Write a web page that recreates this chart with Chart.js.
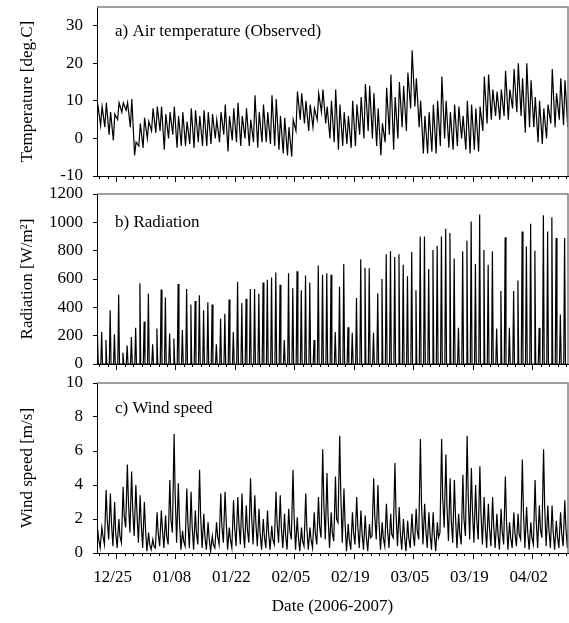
<!DOCTYPE html>
<html>
<head>
<meta charset="utf-8">
<script src="https://cdn.jsdelivr.net/npm/chart.js@4.4.0/dist/chart.umd.min.js"></script>
<style>
  body { margin: 0; background: #fff; }
  #wrap { position: relative; width: 569px; height: 623px; }
  #wrap canvas { position: absolute; left: 0; }
</style>
</head>
<body>
<div id="wrap">
  <canvas id="tempChart" width="569" height="186" style="top:0"></canvas>
  <canvas id="radChart" width="569" height="190" style="top:184px"></canvas>
  <canvas id="windChart" width="569" height="251" style="top:372px"></canvas>
</div>
<script>
// day 0 = 12/25 (2006), first value is 12/20
var startDay = -5;
var tickDays = [0, 14, 28, 42, 56, 70, 84, 98];
var dateLabels = ["12/25", "01/08", "01/22", "02/05", "02/19", "03/05", "03/19", "04/02"];

// daily min / max air temperature [deg.C]
var tempMin = [2.5, 3.5, 3, 1, -0.5,
  5, 7, 7.5, 3,
  -4.5, -2, -2.5, 0,
  2, 1.5, 2, -3, 0, 1,
  -2.5, -2, -2, -1.5, -2.5, -1, -2,
  -2, -1.5, 0, -1, 1, -3.5, -0.5,
  -1, -2, 0, -2, -1, -2.5, -1,
  -1, -1.5, -2, -3, -4, -4.5, -4.8,
  2, 5, 4, 2, 3, 5, 7,
  4, 0, -1, -3, -2, -1.5, -2.5,
  -2, 1, 0, 2, 0, -2, -4.5,
  -1, 1, -3, 0, 3, 2, 8,
  8.5, 3, -4, -4, -3.5, -4, -2,
  0, -2.5, -3, -2, 0, -3, -4,
  -3, -3.5, 2, 4, 5, 6, 5,
  6, 5, 8, 7, 6, 1.5, 3,
  3, -1, -1.5, 0, 4, 3, 5, 3.5, 3];
var tempMax = [9, 8.5, 9.5, 7, 6.5,
  9.5, 9.5, 9.5, 10.5,
  -1, 4, 5.5, 4.5,
  8, 8.5, 8.5, 6.5, 7, 8.5,
  6, 7, 4.5, 8, 7.5, 6, 7.5,
  7, 6.5, 5, 7, 9, 6, 8,
  9.5, 6, 8, 5, 11.5, 7, 9,
  7, 11.5, 10.5, 6, 5.5, 3, 5,
  12.5, 12, 10, 9, 8, 12, 13,
  8.5, 10, 13, 9, 7, 6, 10,
  9, 11, 14.5, 14, 12, 8, 4,
  13.5, 17, 11, 15, 14, 17.5, 23.5,
  16, 10, 6, 7, 9, 10, 16.5,
  10, 7, 9, 8.5, 6, 10, 9,
  8, 8.5, 16.5, 17, 13, 12.5, 13,
  18, 13, 18.5, 20, 16, 20, 15.5,
  11, 10, 8, 9, 18.5, 12, 16, 15.5, 18];

// daily peak radiation [W/m2], night value 0
var radNight = 0;
var radPeak = [210, 225, 170, 380, 210,
  490, 80, 130, 190, 255, 570, 300, 495, 140, 250,
  525, 470, 215, 180, 565, 240, 530, 420, 445, 485,
  380, 435, 420, 140, 320, 355, 455, 225, 580, 430,
  460, 530, 530, 495, 575, 595, 610, 645, 560, 170,
  640, 535, 655, 520, 625, 575, 170, 695, 630, 640,
  630, 225, 545, 705, 260, 220, 465, 740, 680, 675,
  220, 500, 600, 775, 795, 755, 775, 700, 620, 790,
  520, 900, 900, 670, 805, 835, 900, 955, 925, 745,
  255, 795, 870, 1005, 705, 1055, 805, 700, 795, 250,
  515, 895, 255, 515, 590, 935, 830, 990, 800, 255,
  1050, 935, 1035, 890, 350, 890, 960];

// wind speed [m/s]: night low, afternoon high, evening value
var windLow = [0.2, 0.3, 0.5, 0.8, 0.4,
  0.3, 0.6, 1.5, 1.2, 1.0, 0.6, 0.3,
  0.1, 0.2, 0.3, 0.4, 0.3, 0.5, 1.2,
  0.6, 0.2, 0.4, 0.3, 0.2, 0.5, 0.3,
  0.2, 0.1, 0.3, 0.5, 0.6, 0.2, 0.3,
  0.4, 0.5, 0.3, 0.6, 0.5, 0.4, 0.2,
  0.3, 0.2, 0.5, 0.6, 0.3, 0.2, 0.8,
  0.2, 0.1, 0.4, 0.2, 0.3, 0.5, 0.9,
  0.8, 0.3, 0.7, 1.8, 0.6, 0.1, 0.2,
  0.5, 0.3, 0.2, 0.1, 1.0, 0.8, 0.2,
  0.4, 0.3, 0.9, 0.4, 0.2, 0.1, 0.3,
  0.4, 0.8, 0.5, 0.3, 0.2, 0.1, 1.2,
  1.5, 0.7, 0.6, 0.3, 0.5, 1.0, 0.8,
  0.6, 0.8, 0.5, 0.3, 0.4, 0.3, 0.2,
  0.5, 0.2, 0.3, 0.4, 0.8, 0.3, 0.2,
  0.5, 0.3, 0.9, 0.4, 0.3, 0.2, 0.3, 0.4, 0.3];
var windHigh = [1.4, 1.5, 3.7, 3.5, 3.0,
  2.0, 3.9, 5.2, 4.8, 4.0, 3.4, 3.0,
  1.2, 0.8, 2.4, 2.5, 2.2, 4.3, 7.0,
  4.1, 1.3, 3.8, 3.6, 2.5, 4.9, 2.3,
  1.8, 1.0, 1.8, 3.5, 3.6, 1.5, 3.1,
  3.3, 3.5, 2.8, 4.4, 3.4, 2.6, 2.0,
  2.5, 1.6, 3.6, 3.4, 2.3, 2.6, 4.9,
  2.1, 1.5, 3.5, 1.5, 2.4, 3.3, 6.1,
  4.7, 2.4, 4.5, 6.9, 3.8, 1.7, 2.4,
  3.3, 2.5, 2.2, 1.7, 4.4, 4.0, 1.8,
  2.9, 2.3, 5.3, 2.7, 2.0, 1.9, 2.3,
  2.6, 6.7, 2.9, 2.4, 2.4, 1.8, 6.7,
  5.8, 4.4, 4.3, 2.3, 4.6, 6.9, 5.0,
  4.0, 5.1, 3.3, 2.9, 3.3, 2.3, 2.6,
  4.5, 1.8, 2.4, 2.3, 5.5, 2.7, 1.8,
  4.3, 2.8, 6.1, 2.8, 2.8, 1.9, 2.4, 3.1, 2.5];
var windEve = [0.8, 1.0, 2.0, 1.8, 1.2,
  1.0, 2.2, 3.0, 2.6, 2.4, 1.8, 1.5,
  0.5, 0.4, 1.2, 1.4, 1.0, 2.0, 3.5,
  2.0, 0.7, 1.8, 1.6, 1.2, 2.2, 1.0,
  0.9, 0.5, 1.0, 1.6, 2.0, 0.8, 1.5,
  1.8, 1.5, 1.4, 2.2, 1.8, 1.2, 1.0,
  1.2, 0.8, 1.8, 1.5, 1.1, 1.3, 2.2,
  1.0, 0.7, 1.5, 0.8, 1.2, 1.6, 3.0,
  2.2, 1.2, 2.0, 3.5, 1.8, 0.8, 1.2,
  1.6, 1.2, 1.0, 0.9, 2.2, 1.8, 0.9,
  1.4, 1.1, 2.4, 1.3, 1.0, 0.9, 1.2,
  1.3, 3.0, 1.5, 1.2, 1.1, 0.9, 3.2,
  2.8, 2.0, 2.2, 1.2, 2.0, 3.4, 2.5,
  2.0, 2.4, 1.6, 1.5, 1.6, 1.2, 1.3,
  2.0, 0.9, 1.2, 1.1, 2.5, 1.3, 0.9,
  2.0, 1.4, 2.8, 1.4, 1.3, 1.0, 1.2, 1.5, 1.2];

var xMin = -4.6, xMax = 106.3;
var serif = "'Liberation Serif', 'Times New Roman', serif";

Chart.defaults.font.family = serif;
Chart.defaults.font.size = 17;
Chart.defaults.color = "#000";

// one point per series per day, at the given times of day
function dailyPoints(series, times) {
  var pts = [];
  for (var i = 0; i < series[0].length; i++) {
    for (var k = 0; k < series.length; k++) {
      pts.push({ x: startDay + i + times[k], y: series[k][i] });
    }
  }
  return pts;
}

function radPoints() {
  var pts = [];
  for (var i = 0; i < radPeak.length; i++) {
    var d = startDay + i;
    pts.push({ x: d + 0.3, y: radNight });
    pts.push({ x: d + 0.5, y: radPeak[i] });
    pts.push({ x: d + 0.7, y: radNight });
  }
  return pts;
}

// panel label + grey top/right frame
var panelPlugin = {
  id: "panel",
  afterDatasetsDraw: function (chart, args, opts) {
    var a = chart.chartArea, ctx = chart.ctx;
    ctx.save();
    ctx.strokeStyle = "#808080";
    ctx.lineWidth = 1.5;
    ctx.beginPath();
    ctx.moveTo(a.left, a.top);
    ctx.lineTo(a.right, a.top);
    ctx.lineTo(a.right, a.bottom);
    ctx.stroke();
    ctx.fillStyle = "#000";
    ctx.font = "17px " + serif;
    ctx.textBaseline = "middle";
    ctx.fillText(opts.text, a.left + 18, a.top + opts.dy);
    ctx.restore();
  }
};

function xScales(showLabels, h) {
  return {
    x: {
      type: "linear", min: xMin, max: xMax, position: "bottom", weight: 1,
      afterBuildTicks: function (s) {
        s.ticks = tickDays.map(function (v) { return { value: v }; });
      },
      afterFit: function (s) { s.height = h; s.paddingLeft = 0; s.paddingRight = 0; },
      grid: { drawOnChartArea: false, tickLength: 6, tickColor: "#000" },
      border: { color: "#000", width: 1 },
      ticks: {
        display: showLabels, autoSkip: false, maxRotation: 0, padding: 8, labelOffset: -4,
        callback: function (v) { return dateLabels[tickDays.indexOf(v)]; }
      },
      title: { display: showLabels, text: "Date (2006-2007)", padding: { top: 0, bottom: 6 } }
    },
    xMinor: {
      type: "linear", min: xMin, max: xMax, position: "bottom", weight: 0,
      afterFit: function (s) { s.height = 0; s.paddingLeft = 0; s.paddingRight = 0; },
      grid: { drawOnChartArea: false, tickLength: 3, tickColor: "#000" },
      border: { display: false },
      ticks: { display: false, stepSize: 2, includeBounds: false }
    }
  };
}

function yScale(min, max, step, title) {
  return {
    min: min, max: max,
    afterFit: function (s) { s.width = 97; s.paddingTop = 0; s.paddingBottom = 0; },
    grid: { drawOnChartArea: false, tickLength: 4, tickColor: "#000" },
    border: { color: "#000", width: 1 },
    ticks: {
      stepSize: step, includeBounds: false, padding: 10,
      callback: function (v) { return String(v); }
    },
    title: { display: true, text: title, padding: { top: 17, bottom: 0 } }
  };
}

function makeChart(id, points, yOpts, showLabels, xh, padTop, label, dy) {
  var scales = xScales(showLabels, xh);
  scales.y = yOpts;
  return new Chart(document.getElementById(id).getContext("2d"), {
    type: "line",
    data: {
      datasets: [{
        data: points,
        borderColor: "#000",
        borderWidth: 1.2,
        pointRadius: 0,
        tension: 0,
        fill: false
      }]
    },
    options: {
      responsive: false,
      animation: false,
      devicePixelRatio: 1,
      layout: { padding: { top: padTop, right: 1, left: 0, bottom: 0 } },
      scales: scales,
      plugins: {
        legend: { display: false },
        tooltip: { enabled: false },
        panel: { text: label, dy: dy }
      }
    },
    plugins: [panelPlugin]
  });
}

makeChart("tempChart", dailyPoints([tempMin, tempMax], [0.25, 0.6]),
  yScale(-10, 35, 10, "Temperature [deg.C]"), false, 10, 7,
  "a) Air temperature (Observed)", 25);
makeChart("radChart", radPoints(),
  yScale(0, 1200, 200, "Radiation [W/m\u00b2]"), false, 10, 10,
  "b) Radiation", 29);
makeChart("windChart", dailyPoints([windLow, windHigh, windEve], [0.15, 0.55, 0.8]),
  yScale(0, 10, 2, "Wind speed [m/s]"), true, 70, 11,
  "c) Wind speed", 26);
</script>
</body>
</html>
